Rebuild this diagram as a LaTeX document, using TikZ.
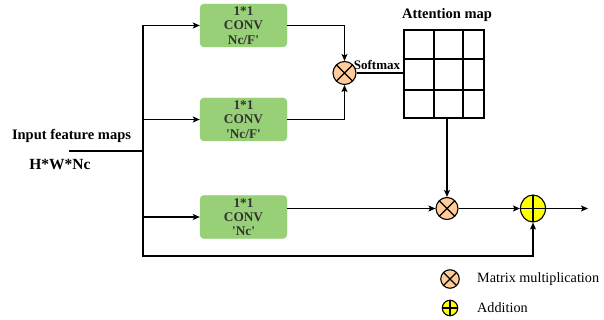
\documentclass[tikz,border=0pt]{standalone}
\usepackage{fontspec}
\setmainfont{Liberation Serif}
\usepackage{tikz}
\usepackage{xcolor}
\usetikzlibrary{arrows.meta,positioning,calc,shapes.geometric}
\definecolor{cG}{HTML}{97D077}
\definecolor{cM}{HTML}{FFCC99}
\definecolor{cY}{HTML}{FFFF00}
\definecolor{cT}{HTML}{333333}
\newcommand\sq{\textquotesingle}
\tikzset{
  conv/.style={rounded corners=4pt,fill=cG,draw=cG,minimum width=87,minimum height=43,
              inner sep=1pt,align=center,text=cT,font=\bfseries\fontsize{13.3}{14.3}\selectfont},
  mult/.style={circle,draw,fill=cM,line width=1.1pt,inner sep=0pt,minimum size=23,
              path picture={\draw[line width=1.1pt]
                (path picture bounding box.north west) -- (path picture bounding box.south east)
                (path picture bounding box.north east) -- (path picture bounding box.south west);}},
  plus/.style={ellipse,draw,fill=cY,line width=1.1pt,inner sep=0pt,minimum width=25,minimum height=27,
              path picture={\draw[line width=1.1pt]
                (path picture bounding box.north) -- (path picture bounding box.south)
                (path picture bounding box.east) -- (path picture bounding box.west);}},
  lbl/.style={inner sep=0pt,font=\bfseries\fontsize{14.5}{16}\selectfont},
  leg/.style={inner sep=0pt,anchor=west,font=\fontsize{14.2}{16}\selectfont},
  wire/.style={line width=1.2pt},
  arr/.style={wire,-{Stealth[length=7pt,width=6pt,inset=1.5pt]}},
}
\begin{document}
\begin{tikzpicture}[x=1pt,y=-1pt]
  \useasboundingbox (0,0) rectangle (604,320);
  % blocks
  \node[conv] (c1) at (243.5,25.5) {1*1\\CONV\\Nc/F\sq};
  \node[conv] (c2) at (243.5,119.5) {1*1\\CONV\\\sq Nc/F\sq};
  \node[conv] (c3) at (243.5,217) {1*1\\CONV\\\sq Nc\sq};
  \node[mult] (m1) at (344.5,73) {};
  \node[mult,minimum size=22] (m2) at (447,208.5) {};
  \node[plus] (add) at (533,208.5) {};
  % attention grid
  \node[draw,wire,minimum width=80,minimum height=88,inner sep=0pt] (att) at (444,74) {};
  \foreach \x in {434,463}{\draw[wire] (\x,30) -- (\x,118);}
  \foreach \y in {59,90}{\draw[wire] (404,\y) -- (484,\y);}
  % labels
  \node[lbl] (inlbl) at (71.5,136) {Input feature maps};
  \node[lbl,font=\bfseries\fontsize{15.5}{17}\selectfont] (dims) at (60,165) {H*W*Nc};
  \node[lbl] (attlbl) at (447,15) {Attention map};
  \node[lbl,font=\bfseries\fontsize{13}{14}\selectfont] (sm) at (377,65) {Softmax};
  % input trunk
  \coordinate (in) at (69,151);
  \coordinate (jn) at (143,151);
  \coordinate (bl) at (143,256);
  \coordinate (out) at (588,208.5);
  \draw[wire] (in) -- (jn);
  \draw[arr] (jn) |- (c1.west);
  \draw[arr] (jn) |- (c2.west);
  \draw[arr] (jn) |- (c3.west);
  \draw[arr] (jn) -- (bl) -| (add.south);
  % attention branch
  \draw[arr] (c1.east) -| (m1.north);
  \draw[arr] (c2.east) -| (m1.south);
  \draw[wire] (m1.east) -- (m1 -| att.west);
  \draw[arr] (m2 |- att.south) -- (m2.north);
  \draw[arr] (c3.east |- m2) -- (m2.west);
  \draw[arr] (m2.east) -- (add.west);
  \draw[arr] (add.east) -- (out);
  % legend
  \node[mult,minimum size=18.5] (lm) at (450,279) {};
  \node[plus,minimum width=15.5,minimum height=15.5] (la) at (450,308) {};
  \node[leg] (lmt) at (477,279) {Matrix multiplication};
  \node[leg] (lat) at (477,308) {Addition};
\end{tikzpicture}
\end{document}
